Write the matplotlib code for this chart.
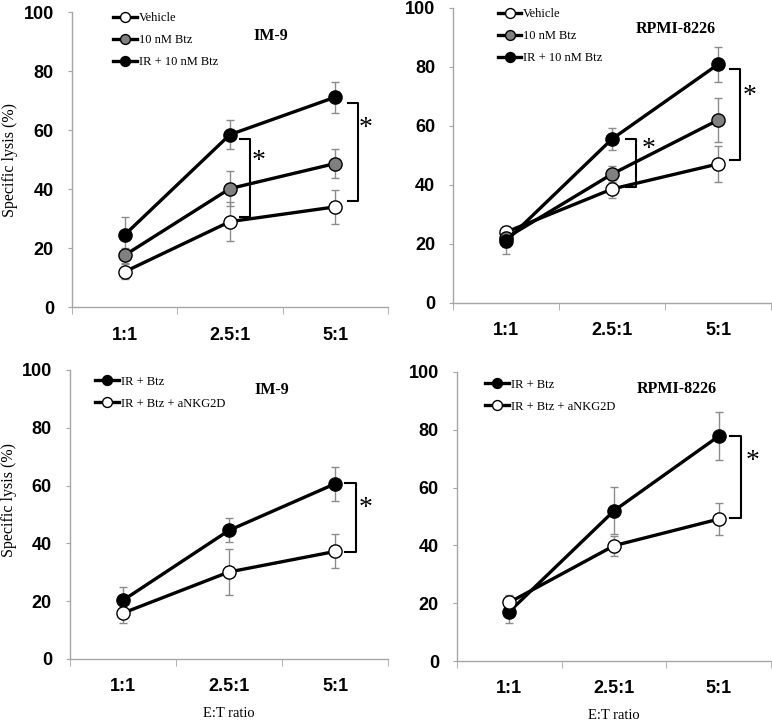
import numpy as np
import matplotlib
matplotlib.use("Agg")
import matplotlib.pyplot as plt
from matplotlib.ticker import FixedLocator

# E:T ratio categories
x_labels = ["1:1", "2.5:1", "5:1"]

# IM-9, top panel
im9_vehicle = [12.0, 29.0, 34.0]
im9_vehicle_err = [2.5, 6.5, 5.7]
im9_btz = [17.6, 40.2, 48.7]
im9_btz_err = [2.5, 6.0, 4.8]
im9_ir_btz = [24.5, 58.5, 71.2]
im9_ir_btz_err = [6.0, 5.0, 5.3]

# RPMI-8226, top panel
rpmi_vehicle = [24.0, 38.6, 47.1]
rpmi_vehicle_err = [2.0, 3.0, 6.0]
rpmi_btz = [22.0, 43.7, 62.0]
rpmi_btz_err = [3.0, 2.7, 7.5]
rpmi_ir_btz = [21.0, 55.6, 80.9]
rpmi_ir_btz_err = [4.5, 3.8, 6.0]

# IM-9, bottom panel (NKG2D blocking)
im9_ir = [20.3, 44.5, 60.6]
im9_ir_err = [4.7, 4.2, 5.8]
im9_nkg = [15.9, 30.1, 37.2]
im9_nkg_err = [3.5, 8.0, 5.9]

# RPMI-8226, bottom panel (NKG2D blocking)
rpmi_ir = [17.1, 52.0, 77.8]
rpmi_ir_err = [4.0, 8.2, 8.2]
rpmi_nkg = [20.3, 39.9, 49.1]
rpmi_nkg_err = [2.5, 3.5, 5.4]

SERIF = "Liberation Serif"
SANS = "Liberation Sans"
AXIS_GRAY = "#a6a6a6"

fig = plt.figure(figsize=(7.72, 7.21), dpi=100)

ax_tl = fig.add_axes([0.0933, 0.574, 0.409, 0.409])
ax_tr = fig.add_axes([0.587, 0.580, 0.412, 0.409])
ax_bl = fig.add_axes([0.0907, 0.086, 0.412, 0.401])
ax_br = fig.add_axes([0.592, 0.0832, 0.407, 0.401])

xpos = np.arange(len(x_labels)) + 0.5


def style_axes(ax):
    ax.set_xlim(0, 3)
    ax.set_ylim(0, 100)
    ax.set_yticks([0, 20, 40, 60, 80, 100])
    ax.set_xticks(xpos)
    ax.set_xticklabels(x_labels)
    ax.xaxis.set_minor_locator(FixedLocator([0, 1, 2, 3]))
    ax.tick_params(axis="x", which="major", length=0, pad=14)
    ax.tick_params(axis="x", which="minor", length=5, color=AXIS_GRAY, direction="out")
    ax.tick_params(axis="y", length=3, color=AXIS_GRAY, pad=10)
    for lab in ax.get_xticklabels() + ax.get_yticklabels():
        lab.set_fontfamily(SANS)
        lab.set_fontweight("bold")
        lab.set_fontsize(13)
    for s in ["top", "right"]:
        ax.spines[s].set_visible(False)
    for s in ["left", "bottom"]:
        ax.spines[s].set_color(AXIS_GRAY)
        ax.spines[s].set_linewidth(1.0)


def series(ax, y, err, face, label):
    ax.errorbar(xpos, y, yerr=err, fmt="none", ecolor="#8c8c8c", elinewidth=1,
                capsize=3, capthick=1, zorder=3)
    ax.plot(xpos, y, color="black", lw=2.4, marker="o", ms=9.5, mfc=face,
            mec="black", mew=1.0, label=label, zorder=4)


def bracket(ax, x0, x1, y_top, y_bot, x_star, y_star):
    ax.plot([x0, x1, x1, x0], [y_top, y_top, y_bot, y_bot], color="black", lw=1.5,
            zorder=2)
    ax.text(x_star, y_star, "*", fontfamily=SERIF, fontsize=20, ha="center",
            va="center")


def legend(ax, anchor):
    ax.legend(loc="upper left", bbox_to_anchor=anchor, frameon=False,
              prop={"family": SERIF, "size": 9}, handlelength=1.9,
              handletextpad=0.15, labelspacing=0.8, borderpad=0,
              borderaxespad=0, markerscale=0.75)


# top-left: IM-9
series(ax_tl, im9_vehicle, im9_vehicle_err, "white", "Vehicle")
series(ax_tl, im9_btz, im9_btz_err, "#808080", "10 nM Btz")
series(ax_tl, im9_ir_btz, im9_ir_btz_err, "black", "IR + 10 nM Btz")
bracket(ax_tl, 1.595, 1.69, im9_ir_btz[1] - 1.4, im9_vehicle[1] + 1.6, 1.77, 49.5)
bracket(ax_tl, 2.62, 2.715, im9_ir_btz[2] - 1.9, im9_vehicle[2] + 2.0, 2.79, 60.5)
ax_tl.text(0.63, 0.92, "IM-9", transform=ax_tl.transAxes, fontfamily=SERIF,
           fontweight="bold", fontsize=11.5, ha="center", va="center")
legend(ax_tl, (0.13, 1.0))

# top-right: RPMI-8226
series(ax_tr, rpmi_vehicle, rpmi_vehicle_err, "white", "Vehicle")
series(ax_tr, rpmi_btz, rpmi_btz_err, "#808080", "10 nM Btz")
series(ax_tr, rpmi_ir_btz, rpmi_ir_btz_err, "black", "IR + 10 nM Btz")
bracket(ax_tr, 1.632, 1.726, rpmi_ir_btz[1], rpmi_vehicle[1] + 0.6, 1.84, 52.0)
bracket(ax_tr, 2.613, 2.708, rpmi_ir_btz[2] - 1.7, rpmi_vehicle[2] + 1.5, 2.80, 70.0)
ax_tr.text(0.70, 0.93, "RPMI-8226", transform=ax_tr.transAxes, fontfamily=SERIF,
           fontweight="bold", fontsize=11.5, ha="center", va="center")
legend(ax_tr, (0.14, 1.0))

# bottom-left: IM-9 with anti-NKG2D
series(ax_bl, im9_ir, im9_ir_err, "black", "IR + Btz")
series(ax_bl, im9_nkg, im9_nkg_err, "white", "IR + Btz + aNKG2D")
bracket(ax_bl, 2.594, 2.698, im9_ir[2] + 0.2, im9_nkg[2] - 0.3, 2.79, 52.0)
ax_bl.text(0.635, 0.93, "IM-9", transform=ax_bl.transAxes, fontfamily=SERIF,
           fontweight="bold", fontsize=11.5, ha="center", va="center")
legend(ax_bl, (0.08, 0.98))

# bottom-right: RPMI-8226 with anti-NKG2D
series(ax_br, rpmi_ir, rpmi_ir_err, "black", "IR + Btz")
series(ax_br, rpmi_nkg, rpmi_nkg_err, "white", "IR + Btz + aNKG2D")
bracket(ax_br, 2.608, 2.713, rpmi_ir[2] + 0.1, rpmi_nkg[2] + 0.2, 2.82, 69.0)
ax_br.text(0.70, 0.94, "RPMI-8226", transform=ax_br.transAxes, fontfamily=SERIF,
           fontweight="bold", fontsize=11.5, ha="center", va="center")
legend(ax_br, (0.09, 0.976))

for ax in [ax_tl, ax_tr, ax_bl, ax_br]:
    style_axes(ax)

for ax in [ax_tl, ax_bl]:
    ax.set_ylabel("Specific lysis (%)", fontfamily=SERIF, fontsize=11.5)
ax_tl.yaxis.set_label_coords(-0.172, 0.5)
ax_bl.yaxis.set_label_coords(-0.167, 0.55)
for ax in [ax_bl, ax_br]:
    ax.set_xlabel("E:T ratio", fontfamily=SERIF, fontsize=10.5, labelpad=8)

fig.savefig("out.png", dpi=100)
